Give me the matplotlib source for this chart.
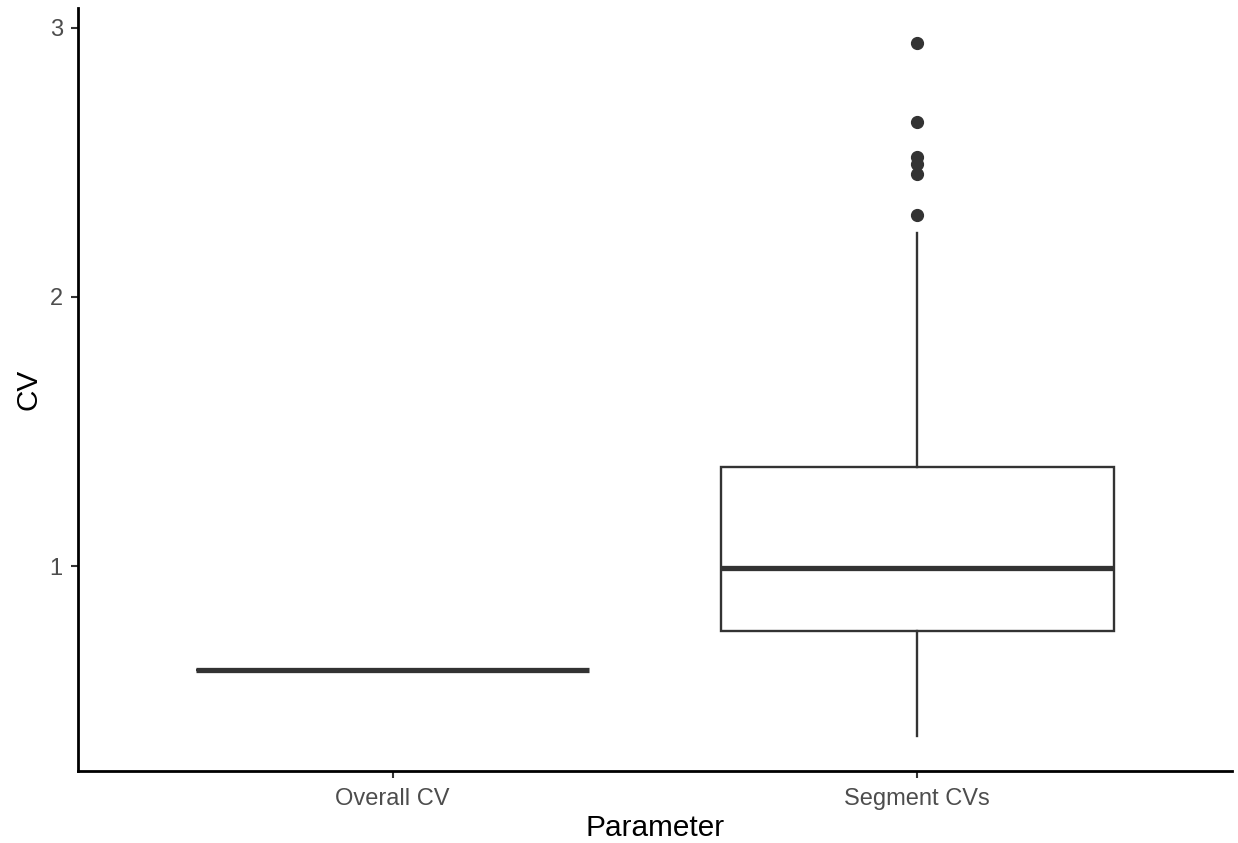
import matplotlib
matplotlib.use("Agg")
import matplotlib.pyplot as plt

# Summary statistics per parameter
categories = ["Overall CV", "Segment CVs"]
q1 = [0.614, 0.759]
median = [0.614, 0.993]
q3 = [0.614, 1.367]
whisker_low = [0.614, 0.369]
whisker_high = [0.614, 2.236]
outliers = [[], [2.944, 2.651, 2.521, 2.492, 2.458, 2.306]]

plt.rcParams["font.family"] = ["Liberation Sans", "DejaVu Sans"]

fig = plt.figure(figsize=(12.38, 8.43), dpi=100)
ax = fig.add_axes([78 / 1238, 1 - 771 / 843, (1232 - 78) / 1238, (771 - 8) / 843])

stats = []
for i, name in enumerate(categories):
    stats.append(dict(label=name, q1=q1[i], med=median[i], q3=q3[i],
                      whislo=whisker_low[i], whishi=whisker_high[i],
                      fliers=outliers[i]))

positions = list(range(1, len(categories) + 1))
box_color = "#333333"
ax.bxp(stats, positions=positions, widths=0.75, showcaps=False, patch_artist=True,
       boxprops=dict(facecolor="white", edgecolor=box_color, linewidth=1.7),
       medianprops=dict(color=box_color, linewidth=3.8, solid_capstyle="butt"),
       whiskerprops=dict(color=box_color, linewidth=1.7),
       flierprops=dict(marker="o", markerfacecolor=box_color, markeredgecolor=box_color,
                       markersize=8.5))

ax.set_xlim(0.4, len(categories) + 0.6)
lo = min(whisker_low + [min(o) for o in outliers if o])
hi = max(whisker_high + [max(o) for o in outliers if o])
pad = 0.05 * (hi - lo)
ax.set_ylim(lo - pad, hi + pad)
ax.set_yticks([1, 2, 3])
ax.set_yticklabels(["1", "2", "3"])
ax.set_xticks(positions)
ax.set_xticklabels(categories)

for side in ["top", "right"]:
    ax.spines[side].set_visible(False)
for side in ["left", "bottom"]:
    ax.spines[side].set_linewidth(2.0)
    ax.spines[side].set_color("black")

ax.tick_params(axis="both", length=5, width=1.5, color="#333333",
               labelsize=17, labelcolor="#4D4D4D")
ax.tick_params(axis="x", pad=7)
ax.tick_params(axis="y", pad=6)
ax.set_xlabel("Parameter", fontsize=21.4, color="black", labelpad=3)
ax.set_ylabel("CV", fontsize=21.4, color="black", labelpad=5)

fig.savefig("out.png", dpi=100)
